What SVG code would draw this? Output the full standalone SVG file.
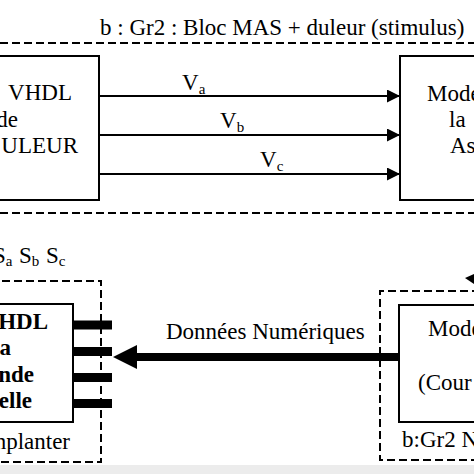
<svg xmlns="http://www.w3.org/2000/svg" width="474" height="474" viewBox="0 0 474 474">
<defs>
<style>
.t{font-family:"Liberation Serif","Times New Roman",serif;font-size:23px;fill:#000}
.b{font-weight:bold}
.sub{font-size:15px}
.box{fill:#fff;stroke:#000;stroke-width:2}
.dash{fill:none;stroke:#000;stroke-width:2;stroke-dasharray:8 4}
.ln{stroke:#000;stroke-width:2;fill:none}
</style>
<marker id="ah" viewBox="0 0 13 13" refX="13" refY="6.5" markerWidth="13" markerHeight="13" markerUnits="userSpaceOnUse" orient="auto">
<path d="M0,0 L13,6.5 L0,13 Z" fill="#000"/>
</marker>
</defs>
<rect x="0" y="0" width="474" height="474" fill="#fff"/>
<rect x="0" y="465" width="474" height="9" fill="#ececec"/>

<g id="top-group">
<line class="dash" x1="0" y1="43" x2="474" y2="43"/>
<line class="dash" x1="0" y1="213" x2="474" y2="213"/>
<text class="t" x="100" y="35">b : Gr2 : Bloc MAS + duleur (stimulus)</text>
</g>

<g id="node-vhdl-onduleur">
<rect class="box" x="-10" y="56" width="109" height="144"/>
<text class="t" x="72" y="100" text-anchor="end">VHDL</text>
<text class="t" x="18" y="127" text-anchor="end">de</text>
<text class="t" x="78" y="153" text-anchor="end">ULEUR</text>
</g>

<g id="node-modele-mas">
<rect class="box" x="400" y="56" width="90" height="144"/>
<text class="t" x="427" y="101">Mode</text>
<text class="t" x="449" y="127">la</text>
<text class="t" x="450" y="153">As</text>
</g>

<g id="bottom-left-group">
<text class="t" x="-7" y="263">S<tspan class="sub" dy="3">a</tspan></text>
<text class="t" x="19" y="263">S<tspan class="sub" dy="3">b</tspan></text>
<text class="t" x="46" y="263">S<tspan class="sub" dy="3">c</tspan></text>
<path class="dash" d="M-10,281 H101 V462 H-10"/>
<text class="t" x="70" y="449" text-anchor="end">nplanter</text>
</g>

<g id="node-commande">
<rect class="box" x="-10" y="304" width="83" height="118"/>
<text class="t b" x="48" y="329" text-anchor="end">HDL</text>
<text class="t b" x="11" y="355" text-anchor="end">a</text>
<text class="t b" x="34" y="382" text-anchor="end">nde</text>
<text class="t b" x="32" y="408" text-anchor="end">elle</text>
<rect x="73" y="320.5" width="39" height="9" fill="#000"/>
<rect x="73" y="347" width="39" height="9" fill="#000"/>
<rect x="73" y="373" width="39" height="9" fill="#000"/>
<rect x="73" y="399" width="39" height="9" fill="#000"/>
</g>

<g id="bottom-right-group">
<path class="dash" d="M480,291 H380 V460 H480"/>
<text class="t" x="402" y="447">b:Gr2 N</text>
<path d="M465,278 L474,274 L474,284 Z" fill="#000"/>
</g>

<g id="node-modele-numerique">
<rect class="box" x="399" y="305" width="90" height="117"/>
<text class="t" x="428" y="336">Mode</text>
<text class="t" x="418" y="390">(Cour</text>
</g>

<g id="connectors">
<line class="ln" x1="99" y1="96" x2="400" y2="96" marker-end="url(#ah)"/>
<line class="ln" x1="99" y1="135" x2="400" y2="135" marker-end="url(#ah)"/>
<line class="ln" x1="99" y1="174" x2="400" y2="174" marker-end="url(#ah)"/>
<text class="t" x="182" y="90">V<tspan class="sub" dy="4">a</tspan></text>
<text class="t" x="220" y="128">V<tspan class="sub" dy="4">b</tspan></text>
<text class="t" x="260" y="167">V<tspan class="sub" dy="4">c</tspan></text>
<line x1="136" y1="357" x2="399" y2="357" stroke="#000" stroke-width="8"/>
<path d="M113,357 L137,345 L137,369 Z" fill="#000"/>
<text class="t" x="166" y="339">Données Numériques</text>
</g>
</svg>
